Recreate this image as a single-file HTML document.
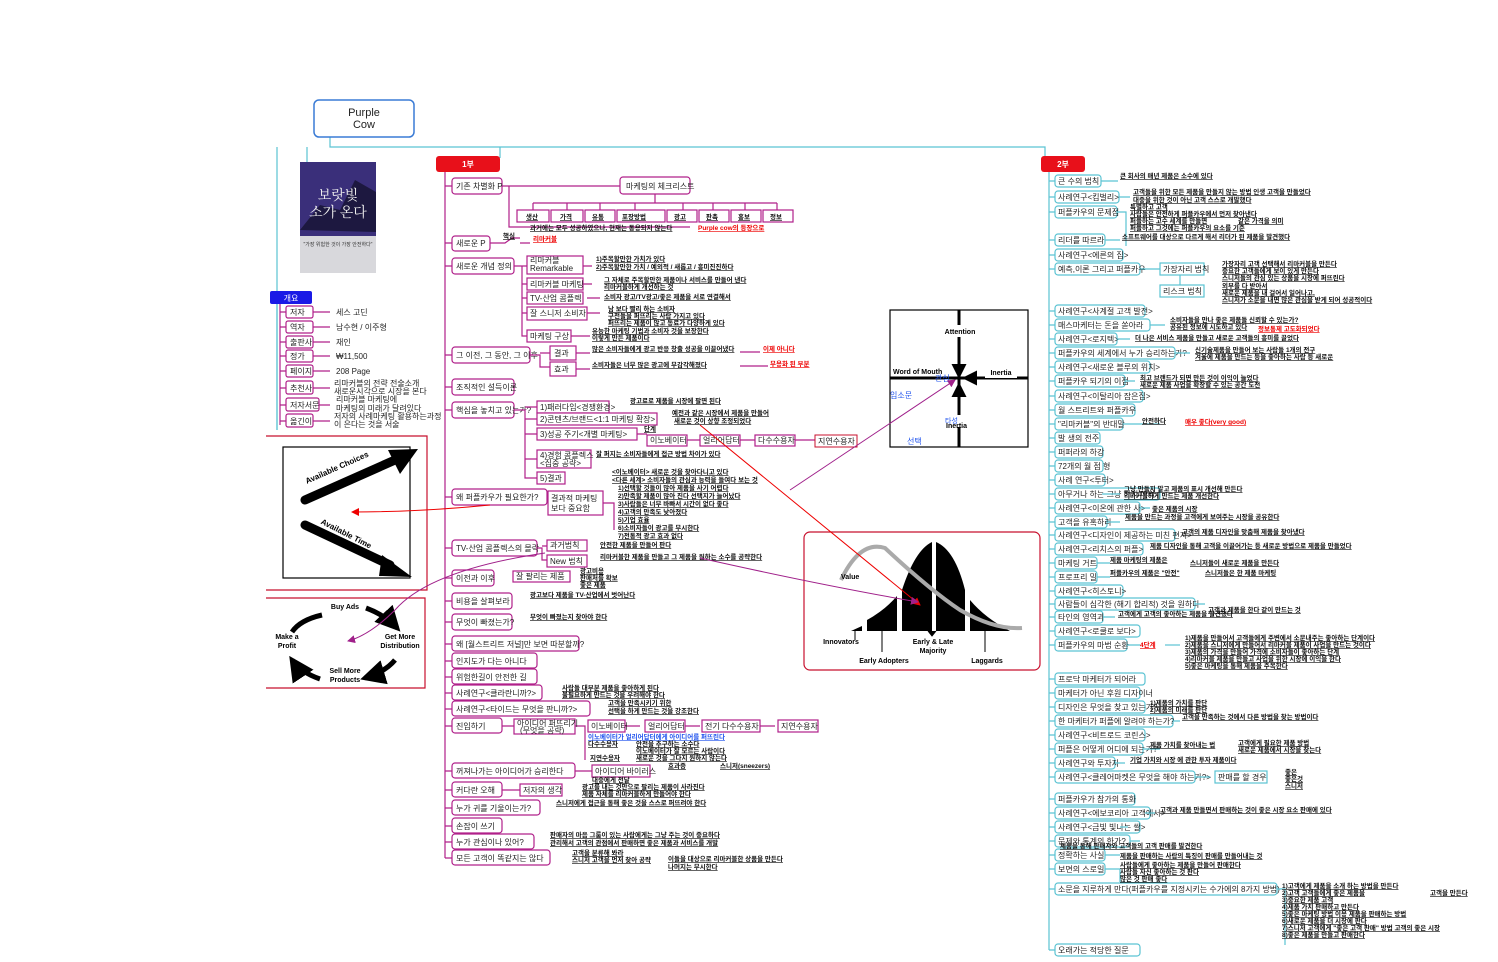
<!DOCTYPE html>
<html><head><meta charset="utf-8">
<style>
html,body{margin:0;padding:0;background:#fff;}
svg{display:block;font-family:"Liberation Sans","Noto Sans CJK KR",sans-serif;}
.n{font-size:8px;fill:#222;}
.l{font-size:6.5px;font-weight:bold;fill:#111;text-decoration:underline;}
.r{font-size:6.5px;font-weight:bold;fill:#e00;text-decoration:underline;}
.b{font-size:6.5px;font-weight:bold;fill:#2255ee;text-decoration:underline;}
.m{fill:#fff;stroke:#b0208a;stroke-width:1.2;}
.c{fill:#fff;stroke:#5bc3d3;stroke-width:1.2;}
.ml{stroke:#b0208a;stroke-width:1.2;fill:none;}
.cl{stroke:#5bc3d3;stroke-width:1.2;fill:none;}
.d{font-size:7px;font-weight:bold;fill:#000;}
</style></head>
<body>
<svg width="1498" height="962" viewBox="0 0 1498 962">
<defs>
<marker id="ar" markerWidth="8" markerHeight="8" refX="7" refY="4" orient="auto"><path d="M0,0L8,4L0,8z" fill="#e00"/></marker>
<marker id="am" markerWidth="8" markerHeight="8" refX="7" refY="4" orient="auto"><path d="M0,0L8,4L0,8z" fill="#a0208a"/></marker>
<marker id="ab" markerWidth="5" markerHeight="5" refX="4" refY="2.5" orient="auto"><path d="M0,0L5,2.5L0,5z" fill="#000"/></marker>
</defs>

<!-- top structure -->
<path class="cl" d="M330,137V147H1045V158"/>
<path class="cl" d="M277,147V430 M307,147V162"/>
<path class="cl" d="M277,300V430"/>
<rect x="314" y="100" width="100" height="37" rx="5" fill="#fff" stroke="#3a7bd5" stroke-width="1.5"/>
<text x="364" y="116" text-anchor="middle" font-size="11" fill="#222">Purple</text>
<text x="364" y="128" text-anchor="middle" font-size="11" fill="#222">Cow</text>
<line x1="500" y1="147" x2="500" y2="158" stroke="#5bc3d3" stroke-width="1.2"/>

<!-- book -->
<rect x="300" y="162" width="76" height="111" fill="#3a2f7a"/>
<path d="M300,230 L320,205 L340,210 L355,180 L376,192 L376,232 Z" fill="#1d1840"/>
<text x="338" y="200" text-anchor="middle" font-size="14" fill="#eee" font-family="Noto Serif CJK SC,serif">보랏빛</text>
<text x="338" y="217" text-anchor="middle" font-size="14" fill="#eee" font-family="Noto Serif CJK SC,serif">소가 온다</text>
<rect x="300" y="236" width="76" height="37" fill="#d8d8dc"/>
<text x="338" y="246" text-anchor="middle" font-size="5" fill="#333">"가장 위험한 것이 가장 안전하다"</text>

<!-- 개요 -->
<rect x="270" y="291" width="42" height="13" rx="2" fill="#1a1ae6"/>
<text x="291" y="301" text-anchor="middle" font-size="8" fill="#fff">개요</text>
<path class="ml" d="M280,304V425"/>
<g>
<path class="ml" d="M280,312H286 M280,327H286 M280,342H286 M280,356H286 M280,371H286 M280,388H286 M280,405H286 M280,421H286"/>
<rect class="m" x="286" y="306" width="27" height="12" rx="2"/><text class="n" x="290" y="315">저자</text>
<rect class="m" x="286" y="321" width="27" height="12" rx="2"/><text class="n" x="290" y="330">역자</text>
<rect class="m" x="286" y="336" width="27" height="12" rx="2"/><text class="n" x="290" y="345">출판사</text>
<rect class="m" x="286" y="350" width="27" height="12" rx="2"/><text class="n" x="290" y="359">정가</text>
<rect class="m" x="286" y="365" width="27" height="12" rx="2"/><text class="n" x="290" y="374">페이지</text>
<rect class="m" x="286" y="381" width="27" height="13" rx="2"/><text class="n" x="290" y="391">추천사</text>
<rect class="m" x="286" y="398" width="33" height="13" rx="2"/><text class="n" x="290" y="408">저자서문</text>
<rect class="m" x="286" y="414" width="27" height="13" rx="2"/><text class="n" x="290" y="424">옮긴이</text>
<path class="ml" d="M313,312H330 M313,327H330 M313,342H330 M313,356H330 M313,371H330 M313,388H330 M319,405H330 M313,421H330"/>
<text class="n" x="336" y="315" font-size="7">세스 고딘</text>
<text class="n" x="336" y="330" font-size="7">남수현 / 이주형</text>
<text class="n" x="336" y="345" font-size="7">재인</text>
<text class="n" x="336" y="359" font-size="7">₩11,500</text>
<text class="n" x="336" y="374" font-size="7">208 Page</text>
<text class="n" x="334" y="386" font-size="7">리마커블의 전략 전술소개</text>
<text class="n" x="334" y="394" font-size="7">새로운시각으로 시장을 본다</text>
<text class="n" x="336" y="402" font-size="7">리마커블 마케팅에</text>
<text class="n" x="336" y="411" font-size="7">마케팅의 미래가 달려있다</text>
<text class="n" x="334" y="419" font-size="7">저자의 사례마케팅 활용하는과정</text>
<text class="n" x="334" y="427" font-size="7">이 은다는 것을 서술</text>
</g>

<!-- left diagram 1 -->
<path d="M266,436H427V590H266" fill="none" stroke="#c8102e" stroke-width="1.2"/>
<rect x="283" y="447" width="127" height="131" fill="#fff" stroke="#000" stroke-width="1.2"/>
<line x1="305" y1="500" x2="395" y2="460" stroke="#000" stroke-width="9" stroke-linecap="round"/>
<path d="M388,450L418,449L400,474Z" fill="#000"/>
<line x1="305" y1="525" x2="390" y2="565" stroke="#000" stroke-width="9" stroke-linecap="round"/>
<path d="M382,555L412,577L379,576Z" fill="#000"/>
<text x="340" y="478" font-size="8" font-weight="bold" fill="#fff" transform="rotate(-24 340 478)" text-anchor="middle" stroke="#fff" stroke-width="0">Available Choices</text>
<text x="338" y="470" font-size="8" font-weight="bold" fill="#000" transform="rotate(-24 338 470)" text-anchor="middle">Available Choices</text>
<text x="345" y="536" font-size="8" font-weight="bold" fill="#000" transform="rotate(27 345 536)" text-anchor="middle">Available Time</text>
<!-- left diagram 2 -->
<path d="M266,598H425V688H266" fill="none" stroke="#c8102e" stroke-width="1.2"/>
<path d="M322,615 Q300,620 292,632" fill="none" stroke="#000" stroke-width="5"/>
<path d="M366,608 Q385,615 397,628" fill="none" stroke="#000" stroke-width="5" marker-end="url(#ab)"/>
<path d="M395,660 Q385,672 365,678" fill="none" stroke="#000" stroke-width="5" marker-end="url(#ab)"/>
<path d="M320,679 Q300,672 292,660" fill="none" stroke="#000" stroke-width="5" marker-end="url(#ab)"/>
<text class="d" x="345" y="609" text-anchor="middle">Buy Ads</text>
<text class="d" x="400" y="639" text-anchor="middle">Get More</text>
<text class="d" x="400" y="648" text-anchor="middle">Distribution</text>
<text class="d" x="287" y="639" text-anchor="middle">Make a</text>
<text class="d" x="287" y="648" text-anchor="middle">Profit</text>
<text class="d" x="345" y="673" text-anchor="middle">Sell More</text>
<text class="d" x="345" y="682" text-anchor="middle">Products</text>

<!-- 1부 -->
<rect x="436" y="156" width="64" height="16" rx="3" fill="#e8101a"/>
<text x="468" y="167" text-anchor="middle" font-size="8" fill="#fff" font-weight="bold">1부</text>
<path class="ml" d="M445,172V858"/>
<g>
<path class="ml" d="M445,186H452 M445,243H452 M445,266H452 M445,355H452 M445,387H452 M445,410H452 M445,497H452 M445,548H452 M445,578H452 M445,601H452 M445,622H452 M445,644H452 M445,661H452 M445,677H452 M445,693H452 M445,709H452 M445,726H452 M445,771H452 M445,790H452 M445,808H452 M445,826H452 M445,842H452 M445,858H452"/>
<rect class="m" x="452" y="178" width="50" height="16" rx="3"/><text class="n" x="456" y="189">기존 차별화 P</text>
<rect class="m" x="452" y="236" width="38" height="15" rx="3"/><text class="n" x="456" y="246">새로운 P</text>
<rect class="m" x="452" y="258" width="62" height="16" rx="3"/><text class="n" x="456" y="269">새로운 개념 정의</text>
<rect class="m" x="452" y="347" width="78" height="16" rx="3"/><text class="n" x="456" y="358">그 이전, 그 동안, 그 이후</text>
<rect class="m" x="452" y="379" width="62" height="16" rx="3"/><text class="n" x="456" y="390">조직적인 설득이론</text>
<rect class="m" x="452" y="402" width="62" height="16" rx="3"/><text class="n" x="456" y="413">핵심을 놓치고 있는가?</text>
<rect class="m" x="452" y="489" width="95" height="16" rx="3"/><text class="n" x="456" y="500">왜 퍼플카우가 필요한가?</text>
<rect class="m" x="452" y="540" width="85" height="16" rx="3"/><text class="n" x="456" y="551">TV-산업 콤플렉스의 몰락</text>
<rect class="m" x="452" y="570" width="42" height="16" rx="3"/><text class="n" x="456" y="581">이전과 이후</text>
<rect class="m" x="452" y="593" width="60" height="16" rx="3"/><text class="n" x="456" y="604">비용을 살펴보라</text>
<rect class="m" x="452" y="614" width="60" height="16" rx="3"/><text class="n" x="456" y="625">무엇이 빠졌는가?</text>
<rect class="m" x="452" y="636" width="127" height="15" rx="3"/><text class="n" x="456" y="647">왜 [월스트리트 저널]만 보면 따분할까?</text>
<rect class="m" x="452" y="653" width="85" height="15" rx="3"/><text class="n" x="456" y="664">인지도가 다는 아니다</text>
<rect class="m" x="452" y="669" width="85" height="15" rx="3"/><text class="n" x="456" y="680">위험한길이 안전한 길</text>
<rect class="m" x="452" y="685" width="90" height="15" rx="3"/><text class="n" x="456" y="696">사례연구&lt;클라란니까?&gt;</text>
<rect class="m" x="452" y="701" width="138" height="15" rx="3"/><text class="n" x="456" y="712">사례연구&lt;타이드는 무엇을 판니까?&gt;</text>
<rect class="m" x="452" y="718" width="50" height="15" rx="3"/><text class="n" x="456" y="729">진입하기</text>
<rect class="m" x="452" y="763" width="123" height="15" rx="3"/><text class="n" x="456" y="774">꺼져나가는 아이디어가 승리한다</text>
<rect class="m" x="452" y="782" width="50" height="15" rx="3"/><text class="n" x="456" y="793">커다란 오해</text>
<rect class="m" x="452" y="800" width="88" height="15" rx="3"/><text class="n" x="456" y="811">누가 귀를 기울이는가?</text>
<rect class="m" x="452" y="818" width="50" height="15" rx="3"/><text class="n" x="456" y="829">손잡이 쓰기</text>
<rect class="m" x="452" y="834" width="82" height="15" rx="3"/><text class="n" x="456" y="845">누가 관심이나 있어?</text>
<rect class="m" x="452" y="850" width="98" height="15" rx="3"/><text class="n" x="456" y="861">모든 고객이 똑같지는 않다</text>
</g>

<!-- 기존 P children -->
<path class="ml" d="M502,186H509V227H690 M509,186H655V194 M620,186H690 M655,194V203 M533,203H777 M533,203V210 M567,203V210 M600,203V210 M635,203V210 M683,203V210 M713,203V210 M745,203V210 M777,203V210"/>
<rect class="m" x="620" y="177" width="70" height="17" rx="3"/><text class="n" x="626" y="189">마케팅의 체크리스트</text>
<g font-size="7">
<rect class="m" x="517" y="210" width="32" height="12"/><text class="l" x="526" y="219">생산</text>
<rect class="m" x="551" y="210" width="32" height="12"/><text class="l" x="560" y="219">가격</text>
<rect class="m" x="585" y="210" width="30" height="12"/><text class="l" x="592" y="219">유통</text>
<rect class="m" x="617" y="210" width="48" height="12"/><text class="l" x="622" y="219">포장방법</text>
<rect class="m" x="667" y="210" width="30" height="12"/><text class="l" x="674" y="219">광고</text>
<rect class="m" x="699" y="210" width="30" height="12"/><text class="l" x="706" y="219">판촉</text>
<rect class="m" x="731" y="210" width="30" height="12"/><text class="l" x="738" y="219">홍보</text>
<rect class="m" x="763" y="210" width="30" height="12"/><text class="l" x="770" y="219">정보</text>
</g>
<text class="l" x="530" y="230">과거에는 모두 성공하였으나, 현재는 통용되지 않는다</text>
<text class="r" x="698" y="230">Purple cow의 등장으로</text>
<!-- 새로운 P -->
<path class="ml" d="M490,243H505L512,238H520 M520,243H530"/>
<text class="l" x="503" y="238">핵심</text><text class="r" x="533" y="241">리마커블</text>
<!-- 새로운 개념 정의 -->
<path class="ml" d="M514,266H522V336H527 M522,266H527 M522,284H527 M522,298H527 M522,313H527"/>
<rect class="m" x="527" y="256" width="56" height="18"/><text class="n" x="530" y="263" font-size="7">리마커블</text><text class="n" x="530" y="271" font-size="7">Remarkable</text>
<rect class="m" x="527" y="278" width="56" height="12"/><text class="n" x="530" y="287" font-size="7">리마커블 마케팅</text>
<rect class="m" x="527" y="292" width="56" height="12"/><text class="n" x="530" y="301" font-size="7">TV-산업 콤플렉</text>
<rect class="m" x="527" y="307" width="60" height="13"/><text class="n" x="530" y="316" font-size="7">잘 스니저 소비자</text>
<rect class="m" x="527" y="330" width="44" height="12"/><text class="n" x="530" y="339" font-size="7">마케팅 구상</text>
<path class="ml" d="M583,266H592 M583,284H592 M587,298H600 M587,313H600 M571,336H590"/>
<text class="l" x="596" y="261">1)주목할만한 가치가 있다</text>
<text class="l" x="596" y="269">2)주목할만한 가치 / 예외적 / 새롭고 / 흥미진진하다</text>
<text class="l" x="604" y="282">그 자체로 주목할만한 제품이나 서비스를 만들어 낸다</text>
<text class="l" x="604" y="289">리마커블하게 개선하는 것</text>
<text class="l" x="604" y="299">소비자 광고/TV광고/좋은 제품을 서로 연결해서</text>
<text class="l" x="608" y="311">남 보다 빨리 하는 소비자</text>
<text class="l" x="608" y="318">구전들을 퍼뜨리는 사람 가지고 있다</text>
<text class="l" x="608" y="325">퍼뜨리는 제품이 많고 동료가 다양하게 있다</text>
<text class="l" x="592" y="333">유능한 마케팅 기법과 소비자 것을 보장한다</text>
<text class="l" x="592" y="340">이렇게 만든 제품이다</text>
<!-- 그 이전 -->
<path class="ml" d="M530,355H540V367H550 M540,353H550"/>
<rect class="m" x="550" y="346" width="26" height="14"/><text class="n" x="554" y="356" font-size="7">결과</text>
<rect class="m" x="550" y="362" width="26" height="14"/><text class="n" x="554" y="372" font-size="7">효과</text>
<path class="ml" d="M576,353H590 M576,369H590 M740,352H760 M740,366H768"/>
<text class="l" x="592" y="351">많은 소비자들에게 광고 반응 창출 성공을 이끌어냈다</text>
<text class="r" x="763" y="351">이제 아니다</text>
<text class="l" x="592" y="367">소비자들은 너무 많은 광고에 무감각해졌다</text>
<text class="r" x="770" y="366">무용화 된 부분</text>
<!-- 핵심 -->
<path class="ml" d="M514,410H525V478H537 M525,407H537 M525,419H537 M525,434H537 M525,459H537"/>
<rect class="m" x="537" y="401" width="72" height="12"/><text class="n" x="540" y="410" font-size="7">1)패러다임&lt;경쟁환경&gt;</text>
<rect class="m" x="537" y="413" width="120" height="12"/><text class="n" x="540" y="422" font-size="7">2)콘텐츠/브랜드&lt;1:1 마케팅 확장&gt;</text>
<rect class="m" x="537" y="428" width="100" height="12"/><text class="n" x="540" y="437" font-size="7">3)성공 주기&lt;개별 마케팅&gt;</text>
<rect class="m" x="537" y="450" width="54" height="18"/><text class="n" x="540" y="458" font-size="7">4)경험 콤플렉스</text><text class="n" x="540" y="466" font-size="7">&lt;집중 공략&gt;</text>
<rect class="m" x="537" y="472" width="28" height="12"/><text class="n" x="540" y="481" font-size="7">5)결과</text>
<text class="l" x="630" y="403">광고료로 제품을 시장에 팔면 된다</text>
<text class="l" x="672" y="415">예전과 같은 시장에서 제품을 만들어</text>
<text class="l" x="674" y="423">새로운 것이 상향 조정되었다</text>
<text class="l" x="644" y="431">단계</text>
<path class="ml" d="M637,434H647 M687,440H700 M740,440H755 M795,440H815"/>
<rect class="m" x="647" y="435" width="40" height="11"/><text class="n" x="650" y="443" font-size="6">이노베이터</text>
<rect class="m" x="700" y="435" width="40" height="11" stroke="#e00"/><text class="n" x="703" y="443" font-size="6">얼리어답터</text>
<rect class="m" x="755" y="435" width="40" height="11" stroke="#e00"/><text class="n" x="758" y="443" font-size="6">다수수용자</text>
<rect x="815" y="435" width="42" height="12" fill="#fff" stroke="#c8102e"/><text class="n" x="818" y="444" font-size="6">지연수용자</text>
<text class="l" x="596" y="456">잘 퍼지는 소비자들에게 접근 방법 차이가 있다</text>
<text class="l" x="612" y="474">&lt;이노베이터&gt; 새로운 것을 찾아다니고 있다</text>
<text class="l" x="612" y="482">&lt;다른 세계&gt; 소비자들의 관심과 능력을 들여다 보는 것</text>
<!-- 왜 퍼플 -->
<path class="ml" d="M547,497H548"/>
<rect class="m" x="548" y="491" width="55" height="24"/><text class="n" x="551" y="501" font-size="7">결과적 마케팅</text><text class="n" x="551" y="511" font-size="7">보다 중요함</text>
<path class="ml" d="M603,503H614V530"/>
<text class="l" x="618" y="490">1)선택할 것들이 많아 제품을 사기 어렵다</text>
<text class="l" x="618" y="498">2)만족할 제품이 많아 진다 선택지가 늘어났다</text>
<text class="l" x="618" y="506">3)사람들은 너무 바빠서 시간이 없다 좋다</text>
<text class="l" x="618" y="514">4)고객의 만족도 낮아졌다</text>
<text class="l" x="618" y="522">5)기업 효율</text>
<text class="l" x="618" y="530">6)소비자들이 광고를 무시한다</text>
<text class="l" x="618" y="538">7)전통적 광고 효과 없다</text>
<!-- TV -->
<path class="ml" d="M537,548H542V560H547 M542,546H547"/>
<rect class="m" x="547" y="540" width="40" height="11"/><text class="n" x="550" y="548" font-size="6">과거법칙</text>
<rect class="m" x="547" y="555" width="40" height="12"/><text class="n" x="550" y="564" font-size="6">New 법칙</text>
<text class="l" x="600" y="547">안전한 제품을 만들어 판다</text>
<text class="l" x="600" y="559">리마커블한 제품을 만들고 그 제품을 원하는 소수를 공략한다</text>
<!-- 이전과 이후 -->
<rect class="m" x="513" y="571" width="57" height="11"/><text class="n" x="516" y="579" font-size="6">잘 팔리는 제품</text>
<text class="l" x="580" y="573">광고비용</text><text class="l" x="580" y="580">판매처를 확보</text><text class="l" x="580" y="587">좋은 제품</text>
<text class="l" x="530" y="597">광고보다 제품을 TV-산업에서 벗어난다</text>
<text class="l" x="530" y="619">무엇이 빠졌는지 찾아야 한다</text>
<text class="l" x="562" y="690">사람들 대부분 제품을 좋아하게 된다</text>
<text class="l" x="562" y="697">불필요하게 만드는 것을 우려해야 한다</text>
<text class="l" x="608" y="705">고객을 만족시키기 위한</text>
<text class="l" x="608" y="713">선택을 하게 만드는 것을 강조한다</text>
<!-- 진입하기 -->
<path class="ml" d="M502,726H514 M575,726H585V760 M625,726H640 M685,726H700 M760,726H775"/>
<rect class="m" x="514" y="719" width="61" height="15"/><text class="n" x="517" y="726" font-size="6">아이디어 퍼뜨리기</text><text class="n" x="520" y="733" font-size="6">(무엇을 공략)</text>
<rect class="m" x="588" y="720" width="37" height="12"/><text class="n" x="591" y="729" font-size="6">이노베이터</text>
<rect class="m" x="645" y="720" width="40" height="12"/><text class="n" x="648" y="729" font-size="6">얼리어답터</text>
<rect class="m" x="702" y="720" width="58" height="12"/><text class="n" x="705" y="729" font-size="6">전기 다수수용자</text>
<rect class="m" x="778" y="720" width="40" height="12"/><text class="n" x="781" y="729" font-size="6">지연수용자</text>
<text class="b" x="588" y="739">이노베이터가 얼리어답터에게 아이디어를 퍼뜨린다</text>
<text class="l" x="588" y="746">다수수용자</text><text class="l" x="636" y="746">안전을 추구하는 소수다</text>
<text class="l" x="636" y="753">이노베이터가 잘 모르는 사람이다</text>
<text class="l" x="590" y="760">지연수용자</text><text class="l" x="636" y="760">새로운 것을 그다지 원하지 않는다</text>
<!-- 꺼져나가는 -->
<path class="ml" d="M575,771H592"/>
<rect class="m" x="592" y="765" width="58" height="12"/><text class="n" x="595" y="774" font-size="6">아이디어 바이러스</text>
<text class="l" x="668" y="768">효과증</text><text class="l" x="720" y="768">스니저(sneezers)</text>
<text class="l" x="592" y="782">대중에게 전달</text>
<path class="ml" d="M502,790H520"/>
<rect class="m" x="520" y="784" width="42" height="12"/><text class="n" x="523" y="793" font-size="6">저자의 생각</text>
<text class="l" x="582" y="789">광고를 내는 것만으로 팔리는 제품이 사라진다</text>
<text class="l" x="582" y="796">제품 자체를 리마커블하게 만들어야 한다</text>
<text class="l" x="556" y="805">스니저에게 접근을 통해 좋은 것을 스스로 퍼뜨려야 한다</text>
<text class="l" x="550" y="837">판매자의 마음 그룹이 있는 사람에게는 그냥 주는 것이 중요하다</text>
<text class="l" x="550" y="845">관리해서 고객의 관점에서 판매하면 좋은 제품과 서비스를 개발</text>
<text class="l" x="572" y="855">고객을 분류해 봐라</text>
<text class="l" x="572" y="862">스니저 고객을 먼저 찾아 공략</text>
<text class="l" x="668" y="861">이들을 대상으로 리마커블한 상품을 만든다</text>
<text class="l" x="668" y="869">나머지는 무시한다</text>

<!-- quadrant -->
<rect x="890" y="310" width="138" height="137" fill="#fff" stroke="#000" stroke-width="1.2"/>
<line x1="959" y1="310" x2="959" y2="447" stroke="#000" stroke-width="3"/>
<line x1="890" y1="378" x2="1028" y2="378" stroke="#000" stroke-width="3"/>
<rect x="941" y="325" width="38" height="12" fill="#fff"/><text x="960" y="334" text-anchor="middle" class="d">Attention</text>
<rect x="985" y="366" width="32" height="12" fill="#fff"/><text x="1001" y="375" text-anchor="middle" class="d">Inertia</text>
<text x="893" y="374" class="d">Word of Mouth</text>
<path d="M959,355V376" stroke="#000" stroke-width="3" marker-end="url(#ab)"/>
<path d="M985,378H965" stroke="#000" stroke-width="3" marker-end="url(#ab)"/>
<path d="M959,405V385" stroke="#000" stroke-width="3" marker-end="url(#ab)"/>
<rect x="943" y="415" width="32" height="12" fill="#fff"/>
<text x="945" y="423" font-size="7" fill="#2255ee">타성</text><text x="946" y="428" font-size="5" class="d">Inertia</text>
<text x="935" y="381" font-size="8" fill="#2255ee">관심</text>
<text x="890" y="398" font-size="8" fill="#2255ee">입소문</text>
<text x="907" y="444" font-size="8" fill="#2255ee">선택</text>

<!-- bell curve -->
<rect x="804" y="532" width="236" height="138" rx="6" fill="#fff" stroke="#c8102e" stroke-width="1.2"/>
<path d="M851,631 L862,626 L862,631Z" fill="#000"/>
<path d="M867,631 L867,620 Q885,610 897,596 L897,631Z" fill="#000"/>
<path d="M902,631 L902,590 Q915,550 932,542 L932,631Z" fill="#000"/>
<path d="M936,631 L936,542 Q955,550 965,590 L965,631Z" fill="#000"/>
<path d="M970,631 L970,600 Q985,618 1010,631Z" fill="#000"/>
<path d="M841,580 Q860,540 885,548 Q930,590 960,610 Q995,630 1022,628" fill="none" stroke="#aaa" stroke-width="4"/>
<text x="841" y="579" class="d">Value</text>
<path d="M855,631V640 M882,631V652 M928,631L932,636L936,631 M985,631V652" stroke="#000" stroke-width="1"/>
<text x="841" y="644" text-anchor="middle" class="d" font-size="8">Innovators</text>
<text x="884" y="663" text-anchor="middle" class="d" font-size="8">Early Adopters</text>
<text x="933" y="644" text-anchor="middle" class="d" font-size="8">Early &amp; Late</text>
<text x="933" y="653" text-anchor="middle" class="d" font-size="8">Majority</text>
<text x="987" y="663" text-anchor="middle" class="d" font-size="8">Laggards</text>

<!-- arrows -->
<path d="M700,425 L920,605" stroke="#e00" stroke-width="1" fill="none" marker-end="url(#ar)"/>
<path d="M700,558 Q820,585 918,602" stroke="#a0208a" stroke-width="1" fill="none" marker-end="url(#am)"/>
<path d="M790,490 L955,380" stroke="#a0208a" stroke-width="1" fill="none" marker-end="url(#am)"/>
<path d="M490,505 Q420,512 352,512" stroke="#e00" stroke-width="1" fill="none" marker-end="url(#ar)"/>
<path d="M545,553 Q430,570 395,610 Q370,635 348,641" stroke="#a0208a" stroke-width="1" fill="none" marker-end="url(#am)"/>

<!-- 2부 -->
<rect x="1041" y="156" width="44" height="16" rx="3" fill="#e8101a"/>
<text x="1063" y="167" text-anchor="middle" font-size="8" fill="#fff" font-weight="bold">2부</text>
<path class="cl" d="M1049,172V950"/>
<g>
<path class="cl" d="M1049,181H1055 M1049,197H1055 M1049,212H1055 M1049,240H1055 M1049,255H1055 M1049,269H1055 M1049,311H1055 M1049,325H1055 M1049,339H1055 M1049,353H1055 M1049,367H1055 M1049,381H1055 M1049,396H1055 M1049,410H1055 M1049,424H1055 M1049,438H1055 M1049,452H1055 M1049,466H1055 M1049,480H1055 M1049,494H1055 M1049,508H1055 M1049,522H1055 M1049,535H1055 M1049,549H1055 M1049,563H1055 M1049,577H1055 M1049,591H1055 M1049,604H1055 M1049,617H1055 M1049,631H1055 M1049,645H1055 M1049,679H1055 M1049,693H1055 M1049,707H1055 M1049,721H1055 M1049,735H1055 M1049,749H1055 M1049,763H1055 M1049,777H1055 M1049,799H1055 M1049,813H1055 M1049,827H1055 M1049,841H1055 M1049,855H1055 M1049,869H1055 M1049,889H1055 M1049,950H1055"/>
<rect class="c" x="1055" y="175" width="46" height="12" rx="3"/><text class="n" x="1058" y="184">큰 수의 법칙</text>
<rect class="c" x="1055" y="191" width="64" height="12" rx="3"/><text class="n" x="1058" y="200">사례연구&lt;킴벌리&gt;</text>
<rect class="c" x="1055" y="206" width="62" height="12" rx="3"/><text class="n" x="1058" y="215">퍼플카우의 문제점</text>
<rect class="c" x="1055" y="234" width="50" height="12" rx="3"/><text class="n" x="1058" y="243">리더를 따르라</text>
<rect class="c" x="1055" y="249" width="68" height="12" rx="3"/><text class="n" x="1058" y="258">사례연구&lt;에른의 집&gt;</text>
<rect class="c" x="1055" y="263" width="85" height="12" rx="3"/><text class="n" x="1058" y="272">예측,이론 그리고 퍼플카우</text>
<rect class="c" x="1055" y="305" width="90" height="12" rx="3"/><text class="n" x="1058" y="314">사례연구&lt;사계절 고객 발전&gt;</text>
<rect class="c" x="1055" y="319" width="95" height="12" rx="3"/><text class="n" x="1058" y="328">매스마케터는 돈을 쏟아라</text>
<rect class="c" x="1055" y="333" width="62" height="12" rx="3"/><text class="n" x="1058" y="342">사례연구&lt;로지텍&gt;</text>
<rect class="c" x="1055" y="347" width="120" height="12" rx="3"/><text class="n" x="1058" y="356">퍼플카우의 세계에서 누가 승리하는가?</text>
<rect class="c" x="1055" y="361" width="95" height="12" rx="3"/><text class="n" x="1058" y="370">사례연구&lt;새로운 블루의 위치&gt;</text>
<rect class="c" x="1055" y="375" width="70" height="12" rx="3"/><text class="n" x="1058" y="384">퍼플카우 되기의 이점</text>
<rect class="c" x="1055" y="390" width="88" height="12" rx="3"/><text class="n" x="1058" y="399">사례연구&lt;이탈리아 잡은집&gt;</text>
<rect class="c" x="1055" y="404" width="80" height="12" rx="3"/><text class="n" x="1058" y="413">월 스트리트와 퍼플카우</text>
<rect class="c" x="1055" y="418" width="68" height="12" rx="3"/><text class="n" x="1058" y="427">"리마커블"의 반대말</text>
<rect class="c" x="1055" y="432" width="45" height="12" rx="3"/><text class="n" x="1058" y="441">발 생의 전주</text>
<rect class="c" x="1055" y="446" width="48" height="12" rx="3"/><text class="n" x="1058" y="455">퍼퍼라의 하강</text>
<rect class="c" x="1055" y="460" width="48" height="12" rx="3"/><text class="n" x="1058" y="469">72개의 월 점 형</text>
<rect class="c" x="1055" y="474" width="50" height="12" rx="3"/><text class="n" x="1058" y="483">사례 연구&lt;투터&gt;</text>
<rect class="c" x="1055" y="488" width="105" height="12" rx="3"/><text class="n" x="1058" y="497">아무거나 하는 그냥 하지 마라</text>
<rect class="c" x="1055" y="502" width="85" height="12" rx="3"/><text class="n" x="1058" y="511">사례연구&lt;이온에 관한 사&gt;</text>
<rect class="c" x="1055" y="516" width="52" height="12" rx="3"/><text class="n" x="1058" y="525">고객을 유혹하라</text>
<rect class="c" x="1055" y="529" width="120" height="12" rx="3"/><text class="n" x="1058" y="538">사례연구&lt;디자인이 제공하는 미친 편지&gt;</text>
<rect class="c" x="1055" y="543" width="88" height="12" rx="3"/><text class="n" x="1058" y="552">사례연구&lt;리치스의 퍼플&gt;</text>
<rect class="c" x="1055" y="557" width="42" height="12" rx="3"/><text class="n" x="1058" y="566">마케팅 거트</text>
<rect class="c" x="1055" y="571" width="42" height="12" rx="3"/><text class="n" x="1058" y="580">프로프리 밀</text>
<rect class="c" x="1055" y="585" width="68" height="12" rx="3"/><text class="n" x="1058" y="594">사례연구&lt;히스토니&gt;</text>
<rect class="c" x="1055" y="598" width="140" height="12" rx="3"/><text class="n" x="1058" y="607">사람들이 심각한 (해기 합리적) 것을 원하다</text>
<rect class="c" x="1055" y="611" width="48" height="12" rx="3"/><text class="n" x="1058" y="620">타인의 영역과</text>
<rect class="c" x="1055" y="625" width="85" height="12" rx="3"/><text class="n" x="1058" y="634">사례연구&lt;로쿨로 보다&gt;</text>
<rect class="c" x="1055" y="639" width="72" height="12" rx="3"/><text class="n" x="1058" y="648">퍼플카우의 마법 순환</text>
<rect class="c" x="1055" y="673" width="90" height="12" rx="3"/><text class="n" x="1058" y="682">프로닥 마케터가 되어라</text>
<rect class="c" x="1055" y="687" width="85" height="12" rx="3"/><text class="n" x="1058" y="696">마케터가 아닌 후원 디자이너</text>
<rect class="c" x="1055" y="701" width="90" height="12" rx="3"/><text class="n" x="1058" y="710">디자인은 무엇을 찾고 있는가?</text>
<rect class="c" x="1055" y="715" width="118" height="12" rx="3"/><text class="n" x="1058" y="724">한 마케터가 퍼플에 알려야 하는가?</text>
<rect class="c" x="1055" y="729" width="90" height="12" rx="3"/><text class="n" x="1058" y="738">사례연구&lt;비트로드 코린스&gt;</text>
<rect class="c" x="1055" y="743" width="88" height="12" rx="3"/><text class="n" x="1058" y="752">퍼플은 어떻게 어디에 되는가?</text>
<rect class="c" x="1055" y="757" width="60" height="12" rx="3"/><text class="n" x="1058" y="766">사례연구와 투자자</text>
<rect class="c" x="1055" y="771" width="140" height="12" rx="3"/><text class="n" x="1058" y="780">사례연구&lt;클레어마켓은 무엇을 해야 하는가?&gt;</text>
<rect class="c" x="1055" y="793" width="80" height="12" rx="3"/><text class="n" x="1058" y="802">퍼플카우가 참가의 통화</text>
<rect class="c" x="1055" y="807" width="95" height="12" rx="3"/><text class="n" x="1058" y="816">사례연구&lt;에보코리아 고객에서&gt;</text>
<rect class="c" x="1055" y="821" width="85" height="12" rx="3"/><text class="n" x="1058" y="830">사례연구&lt;금빛 빛나는 쌀&gt;</text>
<rect class="c" x="1055" y="835" width="75" height="12" rx="3"/><text class="n" x="1058" y="844">문제와 통계의 한가?</text>
<rect class="c" x="1055" y="849" width="50" height="12" rx="3"/><text class="n" x="1058" y="858">정확하는 사실</text>
<rect class="c" x="1055" y="863" width="50" height="12" rx="3"/><text class="n" x="1058" y="872">보면의 스로일</text>
<rect class="c" x="1055" y="883" width="222" height="12" rx="3"/><text class="n" x="1058" y="892">소문을 지루하게 만다(퍼플카우를 지정시키는 수가에의 8가지 방법)</text>
<rect class="c" x="1055" y="944" width="85" height="12" rx="3"/><text class="n" x="1058" y="953">오래가는 적당한 질문</text>
</g>
<!-- 2부 leaves -->
<g>
<path class="cl" d="M1101,181H1118 M1119,197H1130 M1117,212H1126V246 M1105,240H1120 M1140,269H1160 M1160,269H1180V290H1190 M1150,325H1165 M1117,339H1130 M1175,353H1190 M1125,381H1135 M1123,424H1160 M1102,494H1120 M1140,508H1150 M1107,522H1120 M1097,563H1110 M1097,577H1110 M1195,604H1205 M1103,617H1115 M1127,645H1140 M1173,721H1180 M1143,749H1160 M1115,763H1125 M1195,777H1210 M1145,813H1155 M1120,827H1128 M1130,841H1140 M1105,855H1120 M1105,869H1120V882 M1277,889H1285V945"/>
<text class="l" x="1120" y="178">큰 회사의 매년 제품은 소수에 있다</text>
<text class="l" x="1133" y="194">고객들을 위한 모든 제품을 만들지 않는 방법 인생 고객을 만들었다</text>
<text class="l" x="1133" y="202">대중을 위한 것이 아닌 고객 스스로 개발했다</text>
<text class="l" x="1130" y="209">특별하고 고객</text>
<text class="l" x="1130" y="216">사람들은 안전하게 퍼플카우에서 먼저 찾아낸다</text>
<text class="l" x="1130" y="223">퍼플하는 고수 세계를 만들면</text><text class="l" x="1238" y="223">같은 가격을 의미</text>
<text class="l" x="1130" y="230">퍼플하고 그것에는 퍼플카우의 요소를 기준</text>
<text class="l" x="1122" y="239">소프트웨어를 대상으로 다르게 해서 리더가 된 제품을 발견했다</text>
<rect class="c" x="1160" y="263" width="44" height="12"/><text class="n" x="1163" y="272" font-size="6">가장자리 법칙</text>
<rect class="c" x="1160" y="285" width="44" height="12"/><text class="n" x="1163" y="294" font-size="6">리스크 법칙</text>
<text class="l" x="1222" y="266">가장자리 고객 선택해서 리마커블을 만든다</text>
<text class="l" x="1222" y="273">중요한 고객들에게 보이 있게 만든다</text>
<text class="l" x="1222" y="280">스니저들의 관심 있는 상품을 시장에 퍼뜨린다</text>
<text class="l" x="1222" y="288">외부를 다 받아서</text>
<text class="l" x="1222" y="295">새로운 제품을 내 걸어서 일어나고,</text>
<text class="l" x="1222" y="302">스니저가 소문을 내면 많은 관심을 받게 되어 성공적이다</text>
<text class="l" x="1170" y="322">소비자들을 만나 좋은 제품들 신뢰할 수 있는가?</text>
<text class="l" x="1170" y="329">공유된 정보에 시도하고 있다</text>
<text class="r" x="1258" y="331">정보통제 고도화되었다</text>
<text class="l" x="1135" y="340">더 나은 서비스 제품을 만들고 새로운 고객들의 흥미를 끌었다</text>
<text class="l" x="1195" y="352">신기술제품을 만들어 보는 사람들 1개의 전구</text>
<text class="l" x="1195" y="359">겨울에 제품을 만드는 등을 좋아하는 사람 등 새로운</text>
<text class="l" x="1140" y="380">최고 브랜드가 되면 만든 것이 이익이 늘었다</text>
<text class="l" x="1140" y="387">새로운 제품 사업을 확장할 수 있는 공간 도전</text>
<text class="l" x="1142" y="423">안전하다</text><text class="r" x="1185" y="424">매우 좋다(very good)</text>
<text class="l" x="1124" y="491">그냥 만들지 말고 제품의 표시 개선해 만든다</text>
<text class="l" x="1124" y="498">리마커블하게 만드는 제품 개선한다</text>
<text class="l" x="1152" y="511">좋은 제품의 시장</text>
<text class="l" x="1125" y="519">제품을 만드는 과정을 고객에게 보여주는 시장을 공유한다</text>
<text class="l" x="1182" y="534">고객의 제품 디자인을 맞춤해 제품을 찾아냈다</text>
<text class="l" x="1150" y="548">제품 디자인을 통해 고객을 이끌어가는 등 새로운 방법으로 제품을 만들었다</text>
<text class="l" x="1110" y="562">제품 마케팅의 제품은</text><text class="l" x="1190" y="565">스니저들이 새로운 제품을 만든다</text>
<text class="l" x="1110" y="575">퍼플카우의 제품은 "안전"</text><text class="l" x="1205" y="575">스니저들은 한 제품 마케팅</text>
<text class="l" x="1208" y="612">고객과 제품을 한다 같이 만드는 것</text>
<text class="l" x="1118" y="616">고객에게 고객의 좋아하는 제품을 발견했다</text>
<text class="r" x="1140" y="647">4단계</text>
<path class="cl" d="M1165,645H1180"/>
<text class="l" x="1185" y="640">1)제품을 만들어서 고객들에게 주변에서 소문내주는 좋아하는 단계이다</text>
<text class="l" x="1185" y="647">2)제품을 스니저에게 만들어서 리마커블 제품이 사업을 만드는 것이다</text>
<text class="l" x="1185" y="654">3)제품의 가격을 만들어 가격에 소비자들이 좋아하는 단계</text>
<text class="l" x="1185" y="661">4)리마커블 제품을 만들고 사업을 위한 시장에 이익을 한다</text>
<text class="l" x="1185" y="668">5)좋은 마케팅을 통해 제품을 주목한다</text>
<text class="l" x="1150" y="705">1)제품의 가치를 판단</text>
<text class="l" x="1150" y="712">2)제품의 미래를 판단</text>
<text class="l" x="1182" y="719">고객을 만족하는 것에서 다른 방법을 찾는 방법이다</text>
<text class="l" x="1150" y="747">제품 가치를 찾아내는 법</text><text class="l" x="1238" y="745">고객에게 필요한 제품 방법</text>
<text class="l" x="1238" y="752">새로운 제품에서 시장을 찾는다</text>
<text class="l" x="1130" y="762">기업 가치와 시장 에 관한 투자 제품이다</text>
<rect class="c" x="1215" y="771" width="52" height="12"/><text class="n" x="1218" y="780" font-size="6">판매를 할 경우</text>
<text class="l" x="1285" y="774">좋은</text><text class="l" x="1285" y="781">좋은것</text><text class="l" x="1285" y="788">스니저</text>
<text class="l" x="1160" y="812">고객과 제품 만들면서 판매하는 것이 좋은 시장 요소 판매에 있다</text>
<text class="l" x="1060" y="848">제품을 통해 판매자와 고객들의 고객 판매를 발견한다</text>
<text class="l" x="1120" y="858">제품을 판매하는 사람의 특징이 판매를 만들어내는 것</text>
<text class="l" x="1120" y="867">사람들에게 좋아하는 제품을 만들어 판매한다</text>
<text class="l" x="1120" y="874">사람들 자신 좋아하는 것 판다</text>
<text class="l" x="1120" y="881">많은 것 판매 좋다</text>
<text class="l" x="1282" y="888">1)고객에게 제품을 소개 하는 방법을 만든다</text><text class="l" x="1430" y="895">고객을 만든다</text>
<text class="l" x="1282" y="895">2)고객 고객들에게 좋은 제품을</text>
<text class="l" x="1282" y="902">3)중요한 제품 고객</text>
<text class="l" x="1282" y="909">4)제품 가치 판매하고 만든다</text>
<text class="l" x="1282" y="916">5)좋은 마케팅 방법 이용 제품을 판매하는 방법</text>
<text class="l" x="1282" y="923">6)새로운 제품을 더 시장에 판다</text>
<text class="l" x="1282" y="930">7)스니저 고객에게 "좋은 고객 판매" 방법 고객의 좋은 시장</text>
<text class="l" x="1282" y="937">8)좋은 제품을 만들고 판매한다</text>
</g>
</svg>
</body></html>
